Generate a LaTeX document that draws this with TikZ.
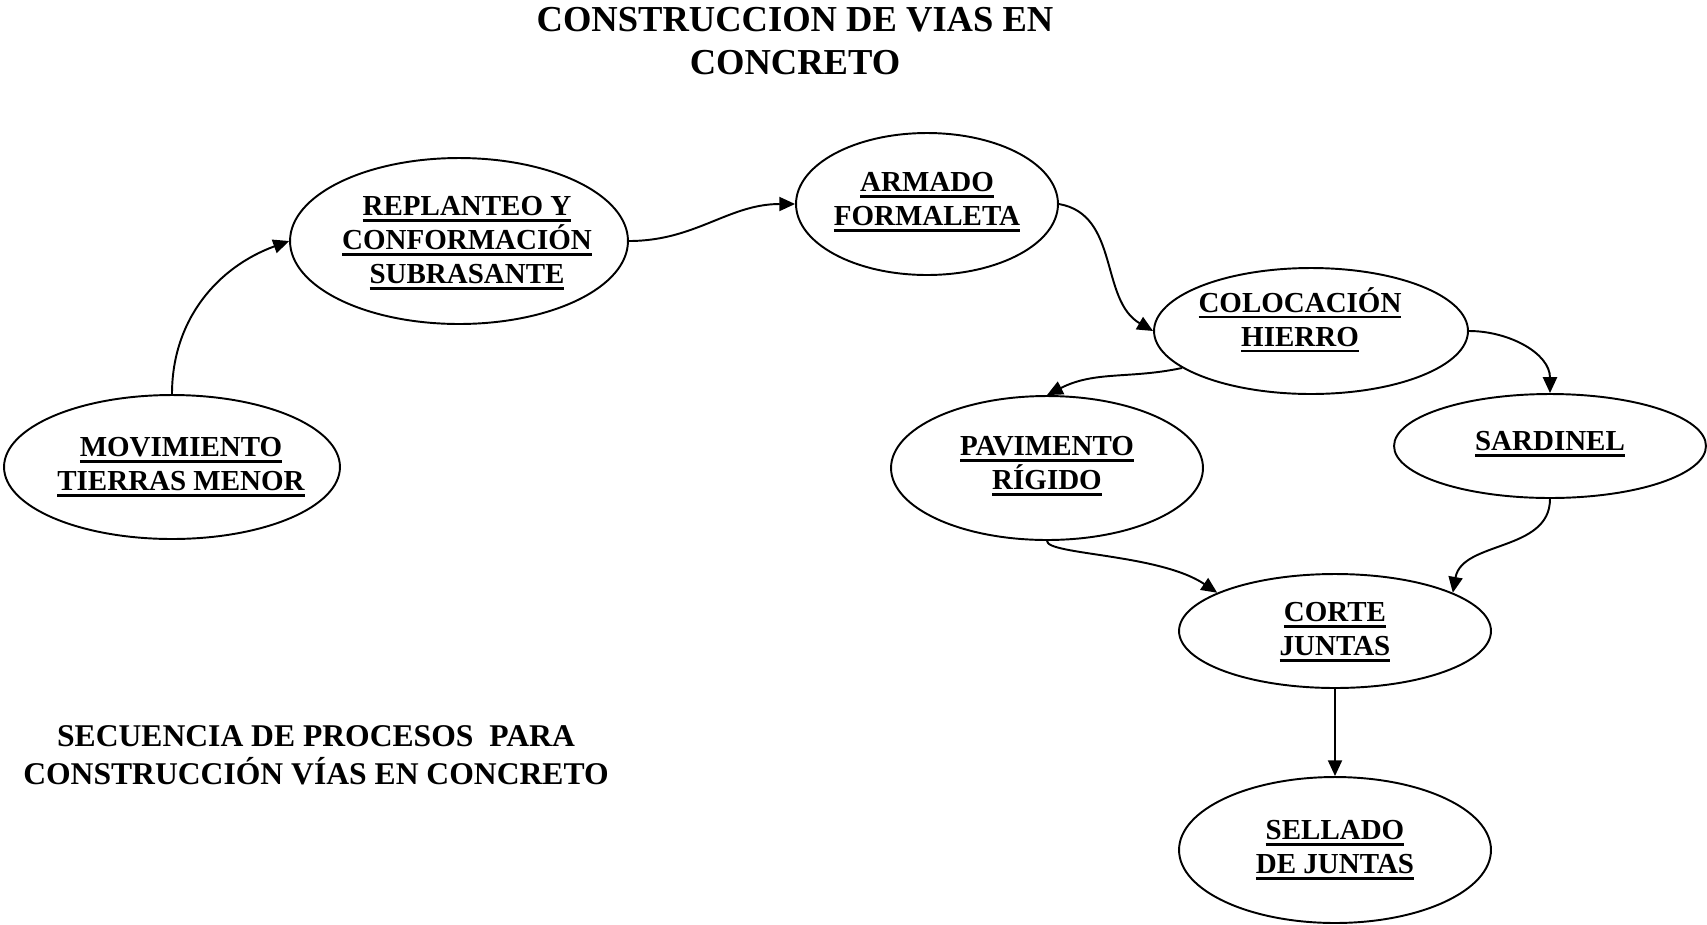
\documentclass[tikz,border=0pt]{standalone}
\usepackage{fontspec}
\setmainfont{Liberation Serif}
\usetikzlibrary{arrows.meta}
\usetikzlibrary{shapes.geometric}

\newcommand{\undr}[1]{\setbox0=\hbox{#1}\rlap{\rule[-3.4pt]{\wd0}{1.5pt}}\box0}

\tikzset{
  etapa/.style={draw, ellipse, line width=1.1pt, inner sep=0pt},
  rotulo/.style={align=center, inner sep=0pt, font=\fontsize{16.5}{19.3}\selectfont\bfseries},
  flecha/.style={line width=1.1pt, -{Triangle[length=9pt,width=8pt]}}
}

\begin{document}
\begin{tikzpicture}[x=0.02cm, y=0.02cm]
\useasboundingbox (0,0) rectangle (1707,-924);
\node[align=center, font=\fontsize{20.8}{24.1}\selectfont\bfseries] (titulo) at (795,-41) {CONSTRUCCION DE VIAS EN\\CONCRETO};
\node[align=center, font=\fontsize{18}{21.6}\selectfont\bfseries] (nota) at (316,-755) {SECUENCIA DE PROCESOS\ \ PARA\\CONSTRUCCIÓN VÍAS EN CONCRETO};

\node[etapa, minimum width=6.72cm, minimum height=2.88cm] (mov) at (172,-467) {};
\node[etapa, minimum width=6.76cm, minimum height=3.32cm] (repl) at (459,-241) {};
\node[etapa, minimum width=5.24cm, minimum height=2.84cm] (arm) at (927,-204) {};
\node[etapa, minimum width=6.28cm, minimum height=2.52cm] (col) at (1311,-331) {};
\node[etapa, minimum width=6.24cm, minimum height=2.88cm] (pav) at (1047,-468) {};
\node[etapa, minimum width=6.24cm, minimum height=2.08cm] (sard) at (1550,-446) {};
\node[etapa, minimum width=6.24cm, minimum height=2.28cm] (cor) at (1335,-631) {};
\node[etapa, minimum width=6.24cm, minimum height=2.92cm] (sel) at (1335,-850) {};

\node[rotulo] (mov-t) at ([shift={(9,0)}]mov) {\undr{MOVIMIENTO}\\\undr{TIERRAS MENOR}};
\node[rotulo] (repl-t) at ([shift={(8,-2)}]repl) {\undr{REPLANTEO Y}\\\undr{CONFORMACIÓN}\\\undr{SUBRASANTE}};
\node[rotulo] (arm-t) at ([shift={(0,2)}]arm) {\undr{ARMADO}\\\undr{FORMALETA}};
\node[rotulo] (col-t) at ([shift={(-11,11)}]col) {\undr{COLOCACIÓN}\\\undr{HIERRO}};
\node[rotulo] (pav-t) at ([shift={(0,2)}]pav) {\undr{PAVIMENTO}\\\undr{RÍGIDO}};
\node[rotulo] (sard-t) at ([shift={(0,2)}]sard) {\undr{SARDINEL}};
\node[rotulo] (cor-t) at ([shift={(0,-1)}]cor) {\undr{CORTE}\\\undr{JUNTAS}};
\node[rotulo] (sel-t) at (sel) {\undr{SELLADO}\\\undr{DE JUNTAS}};

\draw[flecha] (mov.north) to[out=90, in=200] (repl.west);
\draw[flecha] (repl.east) to[out=0, in=180] (arm.west);
\draw[flecha] (arm.east) to[out=-10, in=150] (col.west);
\draw[flecha] (col.196) to[out=192, in=27] (pav.north);
\draw[flecha] (col.east) to[out=0, in=90] (sard.north);
\draw[flecha] (pav.south) to[out=-90, in=146, out looseness=0.2] (cor.162);
\draw[flecha] (sard.south) to[out=-90, in=80] (cor.18);
\draw[flecha] (cor.south) -- (sel.north);
\end{tikzpicture}
\end{document}
